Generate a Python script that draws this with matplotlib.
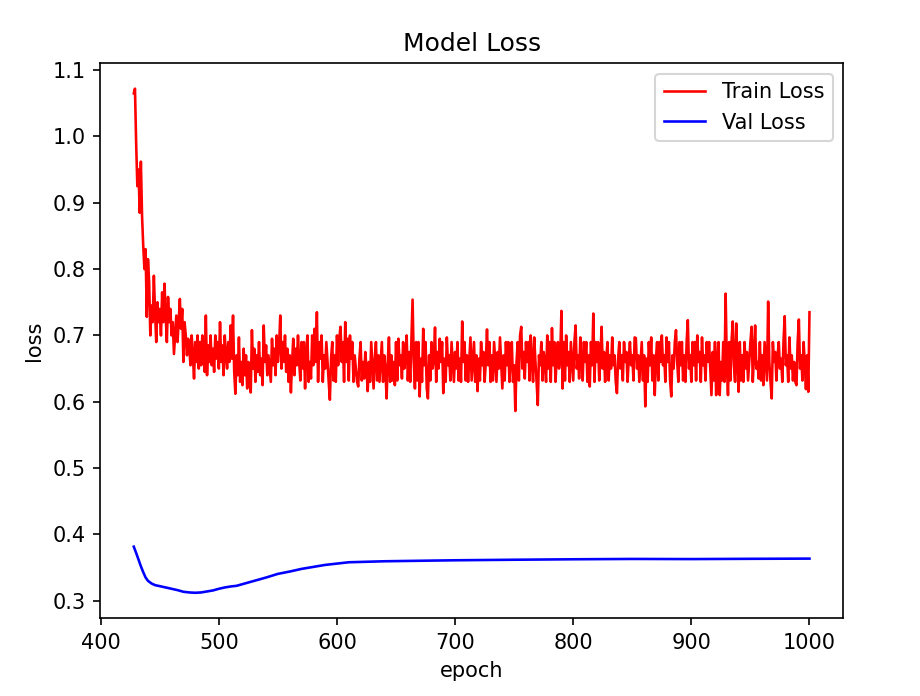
import numpy as np
import matplotlib
matplotlib.use('Agg')
import matplotlib.pyplot as plt

# train loss, one value per epoch starting at epoch 428
train_loss=[1.065,1.072,0.99,0.925,0.95,0.885,0.962,0.88,0.835,0.80,0.83,0.728,0.815,0.78,0.70,0.745,0.72,0.79,0.735,0.69,
0.75,0.72,0.74,0.70,0.765,0.72,0.778,0.73,0.69,0.758,0.72,0.74,0.70,0.72,0.672,0.70,0.73,0.69,0.72,0.755,
0.71,0.74,0.66,0.72,0.70,0.67,0.695,0.68,0.655,0.70,0.67,0.635,0.69,0.66,0.70,0.65,0.69,0.655,0.70,0.67,
0.645,0.73,0.64,0.685,0.66,0.70,0.655,0.68,0.645,0.70,0.665,0.69,0.65,0.72,0.66,0.685,0.64,0.70,0.67,0.65,
0.69,0.66,0.715,0.665,0.73,0.645,0.612,0.67,0.64,0.697,0.63,0.66,0.625,0.68,0.64,0.67,0.62,0.66,0.64,0.614,
0.708,0.65,0.68,0.63,0.67,0.645,0.69,0.64,0.665,0.625,0.715,0.66,0.685,0.64,0.67,0.65,0.63,0.695,0.655,0.68,
0.64,0.70,0.66,0.685,0.73,0.65,0.69,0.66,0.70,0.645,0.68,0.63,0.67,0.614,0.66,0.695,0.64,0.68,0.655,0.70,
0.66,0.632,0.69,0.65,0.69,0.62,0.675,0.70,0.63,0.66,0.635,0.70,0.655,0.71,0.66,0.735,0.63,0.69,0.665,0.70,
0.63,0.67,0.65,0.69,0.66,0.63,0.603,0.665,0.69,0.632,0.67,0.63,0.70,0.655,0.697,0.713,0.66,0.69,0.63,0.72,
0.66,0.695,0.632,0.70,0.665,0.69,0.63,0.67,0.65,0.63,0.623,0.665,0.69,0.632,0.66,0.635,0.675,0.65,0.616,0.66,
0.63,0.69,0.655,0.62,0.665,0.69,0.632,0.67,0.63,0.66,0.69,0.63,0.67,0.65,0.605,0.66,0.697,0.63,0.67,0.632,
0.66,0.625,0.69,0.632,0.695,0.655,0.67,0.635,0.69,0.65,0.665,0.70,0.632,0.675,0.63,0.69,0.754,0.66,0.62,0.69,
0.632,0.69,0.608,0.665,0.63,0.71,0.655,0.69,0.62,0.605,0.67,0.632,0.69,0.65,0.665,0.712,0.63,0.675,0.65,0.695,
0.66,0.69,0.613,0.665,0.63,0.697,0.655,0.67,0.632,0.69,0.66,0.63,0.675,0.65,0.69,0.632,0.665,0.63,0.721,0.66,
0.69,0.632,0.67,0.63,0.665,0.697,0.632,0.66,0.69,0.63,0.67,0.616,0.665,0.632,0.69,0.655,0.675,0.63,0.66,0.709,
0.655,0.69,0.63,0.67,0.632,0.69,0.66,0.63,0.675,0.65,0.697,0.66,0.62,0.67,0.632,0.69,0.655,0.69,0.63,0.665,
0.69,0.63,0.655,0.586,0.66,0.69,0.632,0.70,0.713,0.65,0.675,0.635,0.69,0.66,0.69,0.632,0.70,0.66,0.63,0.697,
0.66,0.63,0.595,0.67,0.655,0.69,0.632,0.675,0.66,0.63,0.70,0.65,0.69,0.63,0.711,0.655,0.69,0.63,0.665,0.69,
0.65,0.67,0.737,0.62,0.69,0.632,0.70,0.655,0.675,0.63,0.69,0.66,0.632,0.69,0.715,0.65,0.67,0.635,0.697,0.66,
0.632,0.69,0.66,0.69,0.63,0.67,0.623,0.69,0.655,0.733,0.63,0.69,0.66,0.69,0.632,0.665,0.713,0.65,0.675,0.63,
0.665,0.69,0.632,0.67,0.65,0.697,0.655,0.67,0.63,0.613,0.665,0.69,0.65,0.67,0.632,0.69,0.66,0.675,0.63,0.665,
0.69,0.655,0.67,0.632,0.697,0.696,0.65,0.67,0.63,0.66,0.69,0.632,0.67,0.593,0.665,0.63,0.69,0.655,0.697,0.632,
0.67,0.61,0.665,0.69,0.632,0.69,0.66,0.70,0.655,0.67,0.63,0.697,0.66,0.69,0.632,0.608,0.67,0.65,0.69,0.708,
0.66,0.63,0.69,0.655,0.69,0.632,0.67,0.63,0.69,0.723,0.65,0.67,0.63,0.69,0.655,0.69,0.632,0.70,0.66,0.675,
0.63,0.697,0.655,0.67,0.632,0.69,0.66,0.69,0.65,0.61,0.675,0.632,0.69,0.61,0.665,0.69,0.61,0.66,0.632,0.69,
0.63,0.763,0.66,0.61,0.69,0.632,0.69,0.721,0.655,0.63,0.718,0.66,0.615,0.69,0.632,0.67,0.63,0.69,0.65,0.675,
0.632,0.66,0.69,0.713,0.63,0.67,0.715,0.65,0.66,0.635,0.69,0.632,0.67,0.625,0.69,0.66,0.632,0.751,0.66,0.63,
0.605,0.69,0.66,0.675,0.632,0.67,0.69,0.65,0.665,0.63,0.69,0.729,0.655,0.67,0.63,0.697,0.65,0.67,0.632,0.66,
0.63,0.625,0.69,0.724,0.65,0.67,0.632,0.69,0.66,0.619,0.67,0.615,0.735]
train_epochs=np.arange(428,428+len(train_loss))

# val loss read at some epochs along the smooth curve
val_epochs=[428,430,432,434,436,438,440,443,446,450,455,460,465,470,475,480,485,490,495,500,
            505,510,515,520,530,540,550,560,570,580,590,600,610,620,640,660,680,700,750,800,
            850,900,950,1000]
val_loss=[0.3815,0.372,0.362,0.352,0.343,0.335,0.330,0.326,0.3235,0.322,0.320,0.318,0.316,0.3135,0.3125,0.312,0.3125,0.314,0.3155,0.318,
          0.320,0.3215,0.3225,0.325,0.330,0.335,0.3405,0.344,0.348,0.351,0.354,0.356,0.358,0.3585,0.3595,0.360,0.3605,0.361,0.3618,0.3625,
          0.363,0.3628,0.3632,0.3635]

fig=plt.figure(figsize=(920/150,696/150),dpi=150)
ax=fig.add_subplot(111)
fig.subplots_adjust(left=0.1087,right=0.9166,top=0.9088,bottom=0.1121)
ax.plot(train_epochs,train_loss,'r',lw=1.25,label='Train Loss')
ax.plot(val_epochs,val_loss,'b',lw=1.25,label='Val Loss')
ax.set_title('Model Loss')
ax.set_xlabel('epoch')
ax.set_ylabel('loss')
ax.legend(loc='upper right')
fig.savefig('out.png',dpi=150)
